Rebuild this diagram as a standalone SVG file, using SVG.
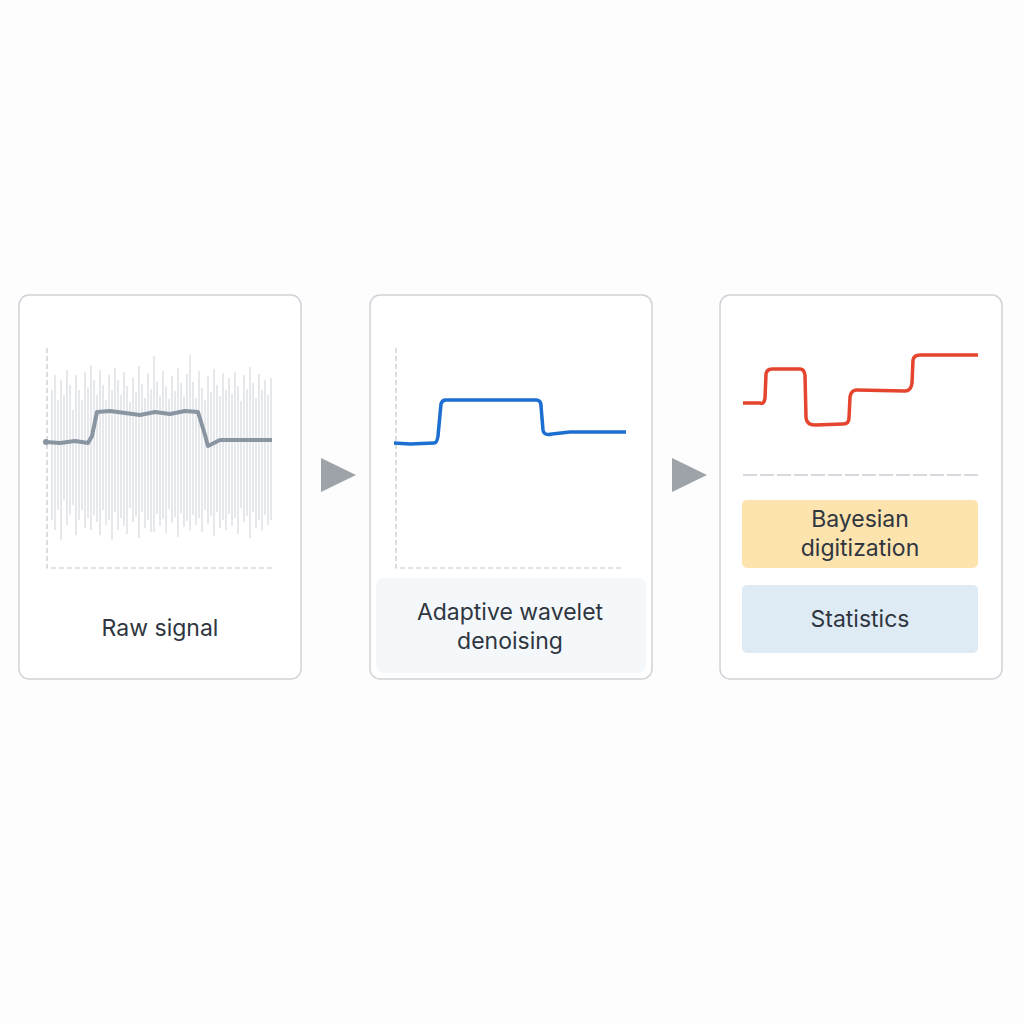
<svg xmlns="http://www.w3.org/2000/svg" width="1024" height="1024" viewBox="0 0 1024 1024">
<style>
.card{fill:#fff;stroke:#cfd3d8;stroke-width:1.5}
.axis{fill:none;stroke:#c4c8cd;stroke-width:1.2;stroke-dasharray:5 3}
.lbl{font-family:Inter,"Liberation Sans",sans-serif;font-size:23px;fill:#2f3640;text-anchor:middle}
.arr{fill:#9ea3aa}
</style>
<rect width="1024" height="1024" fill="#fdfdfd"/>
<g id="raw">
<rect class="card" x="19" y="295" width="282" height="384" rx="10"/>
<path class="axis" d="M47 348 V568 H273"/>
<path fill="none" stroke="#b9c0c8" stroke-width="0.9" opacity="0.8" d="M52 390V520M55 375V530M58 400V510M61 380V540M64 395V500M67 370V525M70 385V515M73 410V505M76 375V535M79 390V520M82 400V510M85 372V528M88 388V518M91 365V530M94 380V515M97 395V522M100 370V535M103 385V510M106 400V525M109 375V520M112 390V540M115 368V512M118 380V530M121 395V518M124 372V526M127 386V534M130 402V508M133 377V522M136 392V516M139 366V538M142 384V512M145 398V528M148 373V520M151 389V532M154 356V532M157 381V514M160 396V526M163 371V519M166 387V533M169 399V509M172 376V523M175 391V517M178 368V537M181 383V513M184 397V527M187 374V521M190 355V531M193 382V515M196 398V525M199 371V518M202 388V532M205 400V510M208 376V524M211 392V516M214 369V536M217 385V512M220 396V528M223 373V520M226 390V530M229 378V514M232 394V526M235 372V518M238 386V534M241 401V508M244 375V522M247 389V516M250 367V538M253 383V512M256 398V528M259 374V520M262 390V531M265 380V515M268 395V525M271 378V520"/>
<path fill="none" stroke="#8a95a2" stroke-width="4" stroke-linejoin="round" d="M46 442 L60 443 L75 441 L88 443 L92 436 L97 412 L110 411 L125 413 L140 415 L155 412 L170 414 L185 411 L198 412 L205 435 L208 446 L220 440 L240 440 L272 440"/>
<circle cx="46" cy="442" r="3" fill="#8a95a2"/>
<text class="lbl" x="160" y="636">Raw signal</text>
</g>
<g id="denoise">
<rect class="card" x="370" y="295" width="282" height="384" rx="10"/>
<rect x="376" y="578" width="270" height="95" rx="8" fill="#f4f8fb"/>
<path class="axis" d="M396 348 V568 H622"/>
<path fill="none" stroke="#1c6fd1" stroke-width="3.5" stroke-linejoin="round" d="M394 443 L410 444 L434 443 Q437 443 438 436 L441 404 Q442 400 446 400 L536 400 Q541 400 541 406 L543 430 Q544 436 552 434 L570 432 L626 432"/>
<text class="lbl" x="510" y="620">Adaptive wavelet</text>
<text class="lbl" x="510" y="649">denoising</text>
</g>
<g id="bayes">
<rect class="card" x="720" y="295" width="282" height="384" rx="10"/>
<path fill="none" stroke="#e5442e" stroke-width="3.5" stroke-linejoin="round" d="M743 403 L760 403 Q764 405 765 398 L766 374 Q767 369 772 369 L800 369 Q804 369 805 375 L806 418 Q807 425 815 425 L843 424 Q849 424 849 418 L850 397 Q851 390 857 390 L905 391 Q911 391 912 383 L913 360 Q914 355 920 355 L978 355"/>
<line x1="743" y1="475" x2="978" y2="475" stroke="#c9cdd2" stroke-width="1.5" stroke-dasharray="14 3"/>
<rect x="742" y="500" width="236" height="68" rx="5" fill="#fde3ad"/>
<text class="lbl" x="860" y="527">Bayesian</text>
<text class="lbl" x="860" y="556">digitization</text>
<rect x="742" y="585" width="236" height="68" rx="5" fill="#deeaf4"/>
<text class="lbl" x="860" y="627">Statistics</text>
</g>
<g id="connectors">
<polygon class="arr" points="321,458 356,475 321,492"/>
<polygon class="arr" points="672,458 707,475 672,492"/>
</g>
</svg>
